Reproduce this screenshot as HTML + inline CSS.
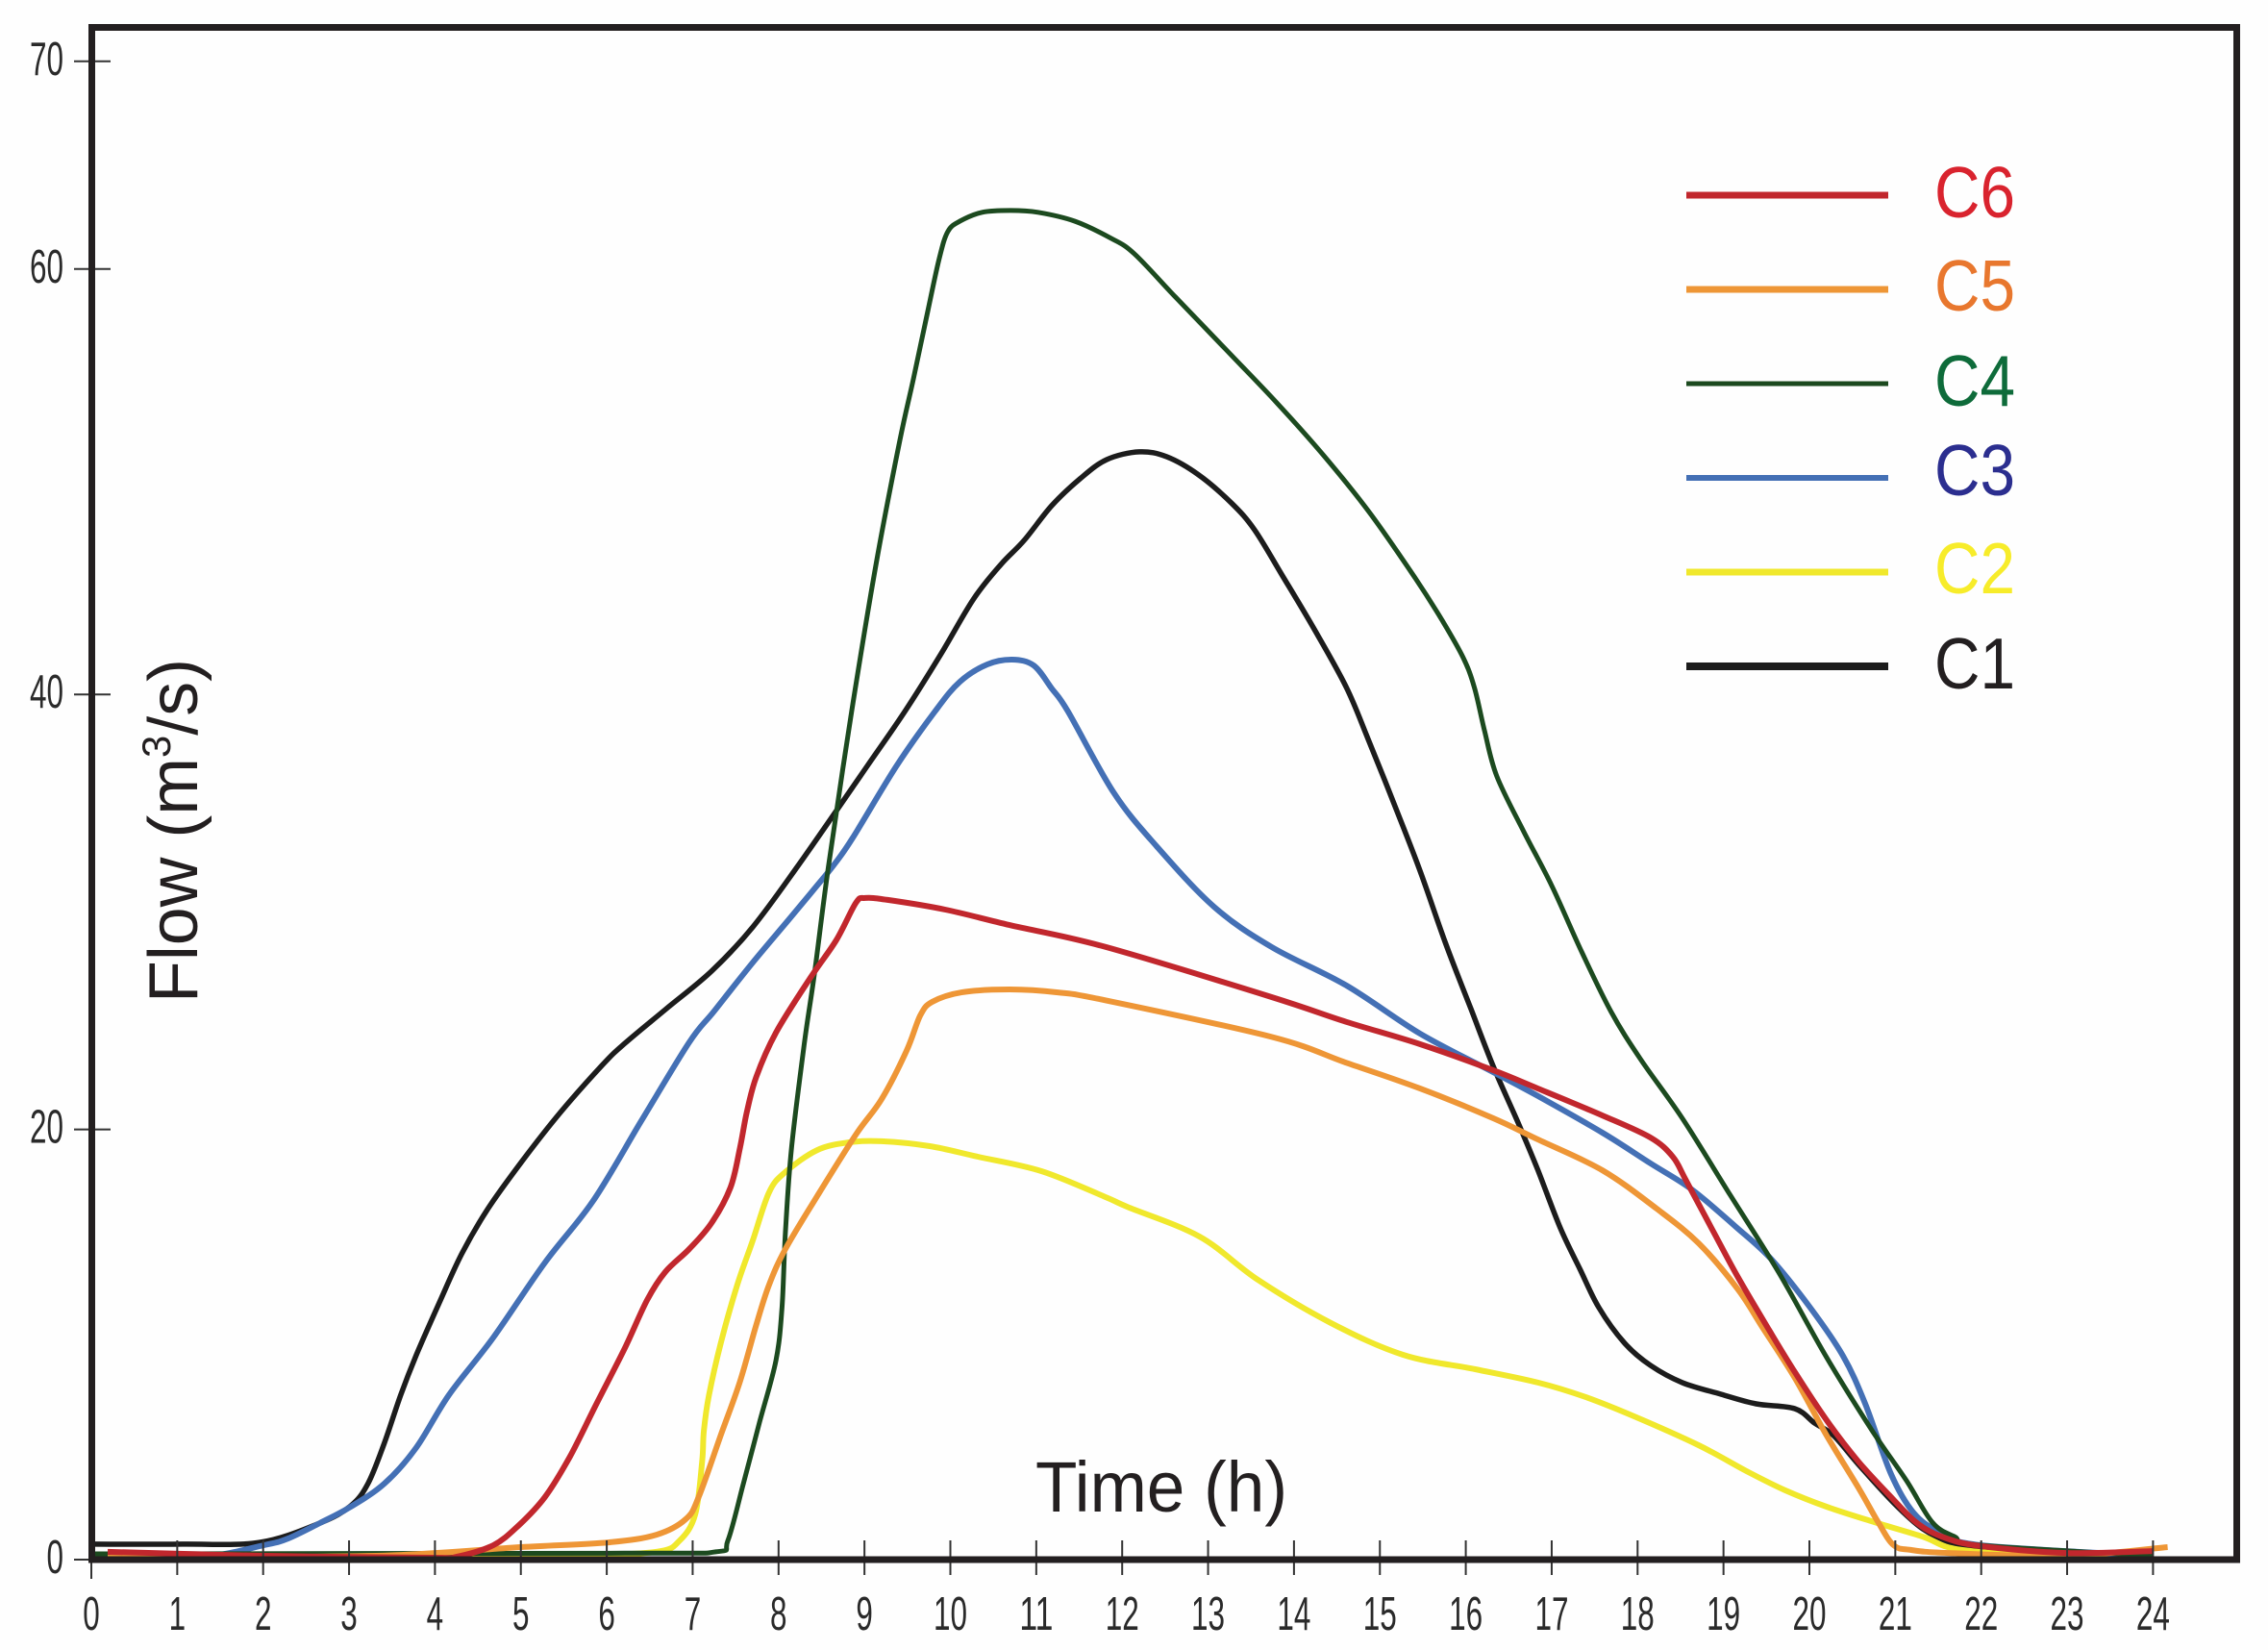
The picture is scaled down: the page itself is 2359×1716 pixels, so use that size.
<!DOCTYPE html>
<html lang="en">
<head>
<meta charset="utf-8">
<title>Flow vs Time</title>
<style>
html,body{margin:0;padding:0;background:#fefefe;}
svg{display:block;}
text{font-family:"Liberation Sans",sans-serif;}
</style>
</head>
<body>
<svg id="chart" xmlns="http://www.w3.org/2000/svg" width="2359" height="1716" viewBox="0 0 2359 1716">
<rect x="0" y="0" width="2359" height="1716" fill="#fefefe"/>
<g id="series"></g>
<g id="xticks"></g>
<g id="yticks"></g>
<rect x="95.5" y="28.5" width="2231" height="1593.5" fill="none" stroke="#231f20" stroke-width="7"/>
<text transform="translate(205,1043) rotate(-90)" font-size="72" fill="#231f20" textLength="358" lengthAdjust="spacingAndGlyphs">Flow (m<tspan font-size="42" dy="-28">3</tspan><tspan dy="28">/s)</tspan></text>
<text x="1077" y="1572" font-size="74" fill="#231f20" textLength="262" lengthAdjust="spacingAndGlyphs">Time (h)</text>
<g id="legend"></g>
</svg>
<script>
const xTickLabels = [0,1,2,3,4,5,6,7,8,9,10,11,12,13,14,15,16,17,18,19,20,21,22,23,24];
const yTickLabels = [0,20,40,60,70];

const c1Hours = [0,1.06,1.96,2.66,3.02,3.22,3.41,3.60,3.78,4.05,4.31,4.61,5.01,5.46,5.95,6.21,6.69,7.22,7.7,8.23,9.03,9.47,9.89,10.27,10.59,10.86,11.18,11.51,11.82,12.2,12.52,12.89,13.27,13.54,13.86,14.24,14.61,14.86,15.17,15.47,15.76,16.06,16.32,16.62,16.84,17.1,17.33,17.55,17.85,18.15,18.52,18.97,19.38,19.83,20.06,20.28,20.57,20.98,21.32,21.66,22,24];
const c1Flow = [0.72,0.72,0.8,1.7,2.5,3.53,5.41,7.64,9.48,11.94,14.2,16.27,18.5,20.79,23.0,24.0,25.6,27.36,29.41,32.28,36.88,39.43,42.1,44.66,46.27,47.39,49.0,50.25,51.14,51.5,51.27,50.43,49.13,47.88,45.78,43.23,40.55,38.18,35.09,32.0,28.7,25.6,22.93,20.21,18.1,15.42,13.5,11.71,10.06,9.03,8.23,7.69,7.24,7.02,6.35,5.77,4.43,2.64,1.43,0.76,0.45,0.18];

const c2Hours = [0.19,3.61,5.65,6.58,6.85,7.03,7.11,7.13,7.19,7.33,7.52,7.7,7.89,8.08,8.45,8.82,9.2,9.76,10.32,11.06,11.81,12.06,12.9,13.58,14.43,15.27,16.11,16.84,17.4,17.96,18.71,19.27,19.72,20.2,20.76,21.32,21.77,23,24];
const c2Flow = [0.09,0.13,0.22,0.36,0.89,2.1,4.56,5.99,7.64,10.1,12.78,14.84,17.08,18.02,19.04,19.4,19.45,19.22,18.73,18.06,16.85,16.4,15.02,13.01,11.0,9.52,8.85,8.23,7.55,6.66,5.32,4.11,3.22,2.46,1.74,1.07,0.45,0.13,0.13];

const c3Hours = [0.3,1.3,2.01,2.29,2.66,3.0,3.41,3.78,4.16,4.68,5.28,5.84,6.4,6.96,7.25,7.7,8.15,8.42,8.64,8.86,9.37,9.82,10.11,10.43,10.72,10.97,11.18,11.37,11.9,12.4,13.07,13.74,14.61,15.47,16.32,16.84,17.59,18.15,18.63,19.16,19.56,20.01,20.39,20.65,20.95,21.21,21.51,21.99,24];
const c3Flow = [0.13,0.13,0.67,0.98,1.7,2.41,3.53,5.19,7.64,10.33,13.81,16.67,20.38,24.05,25.5,27.76,29.9,31.2,32.28,33.53,36.88,39.43,40.81,41.62,41.84,41.57,40.5,39.43,35.67,33.17,30.35,28.48,26.69,24.45,22.66,21.55,19.85,18.42,17.21,15.42,13.95,11.71,9.48,7.24,3.98,2.19,1.3,0.67,0.18];

const c4Hours = [0,6.21,7.27,7.41,7.59,7.78,7.97,8.04,8.08,8.15,8.30,8.42,8.58,8.85,9.14,9.41,9.57,9.74,9.87,9.97,10.11,10.37,10.70,11.02,11.45,11.87,12.14,12.62,13.27,13.8,14.34,14.87,15.41,15.72,15.97,16.1,16.22,16.36,16.67,17.0,17.35,17.69,18.03,18.52,19.08,19.64,20.2,20.73,21.13,21.43,21.69,21.99,24];
const c4Flow = [0.27,0.3,0.36,0.89,3.53,6.4,9.26,11.72,15.2,19.1,24.0,27.3,32.2,39.4,46.4,52.0,54.9,58.1,60.5,61.8,62.3,62.73,62.82,62.73,62.3,61.48,60.74,58.7,56.0,53.78,51.36,48.73,45.64,43.7,41.93,40.55,38.5,36.43,33.88,31.34,28.25,25.48,23.29,20.52,16.94,13.37,9.4,6.0,3.67,1.74,1.07,0.67,0.18];

const c5Hours = [0.19,2.29,3.61,5,6.02,6.58,6.92,7.07,7.33,7.55,7.74,7.89,8.08,8.45,8.9,9.2,9.49,9.65,9.79,10.13,10.69,11.25,11.81,13.74,14.61,15.47,16.32,16.84,17.59,18.22,18.71,19.16,19.45,19.83,20.2,20.57,20.8,20.98,21.18,21.62,23,24.17];
const c5Flow = [0.09,0.13,0.22,0.58,0.8,1.16,1.88,2.91,5.81,8.27,10.91,12.78,14.44,16.9,19.76,21.41,23.65,25.3,25.93,26.37,26.51,26.37,26.0,24.3,23.1,21.9,20.52,19.53,18.1,16.32,14.71,12.61,10.82,8.45,5.77,3.35,1.74,0.67,0.45,0.31,0.18,0.58];

const c6Hours = [0.19,2.01,3.97,4.25,4.68,4.98,5.28,5.57,5.88,6.21,6.47,6.68,6.96,7.22,7.44,7.55,7.63,7.74,7.97,8.37,8.67,8.9,9.01,9.27,9.94,10.69,11.81,13.74,14.61,15.47,16.32,16.84,17.59,18.15,18.41,18.56,18.86,19.16,19.53,19.83,20.2,20.57,20.95,21.24,21.54,21.99,23,24];
const c6Flow = [0.36,0.18,0.09,0.13,0.67,1.61,2.91,4.78,7.24,9.83,12.07,13.37,14.44,15.65,17.3,19.13,20.79,22.44,24.5,27.05,28.79,30.53,30.76,30.67,30.22,29.5,28.48,26.15,25.0,23.96,22.75,21.9,20.65,19.62,18.73,17.66,15.42,13.19,10.68,8.72,6.48,4.56,2.91,1.74,1.07,0.63,0.31,0.4];

const seriesNames = ['C1','C2','C3','C4','C5','C6'];
const seriesHours = [c1Hours,c2Hours,c3Hours,c4Hours,c5Hours,c6Hours];
const seriesFlow = [c1Flow,c2Flow,c3Flow,c4Flow,c5Flow,c6Flow];
const seriesColors = ['#1c1c1c','#f0e82c','#4470b5','#1c4a1f','#ee9636','#c1272d'];
const seriesWidths = [5.5,6,6,5,6,6];

const legendOrder = ['C6','C5','C4','C3','C2','C1'];
const legendTextColors = {C6:'#d9232e',C5:'#e8772e',C4:'#0e6b3a',C3:'#2b2e8f',C2:'#f7ec2a',C1:'#231f20'};
const legendLineWidths = {C6:7,C5:7,C4:5,C3:6,C2:7,C1:8};
const legendLabelDrop = {C6:23,C5:22,C4:23,C3:18,C2:22,C1:23};

const NS = 'http://www.w3.org/2000/svg';
function xScale(h){ return 95 + h * 89.35; }
function yScale(v){ return v <= 60 ? 1622 - v * 22.37 : 279.8 - (v - 60) * 21.6; }
function yTickPos(v){ return yScale(v) - (v === 40 ? 5 : 0); }

function smoothPath(hs, vs){
  const p = hs.map((h,i)=>[xScale(h), yScale(vs[i])]);
  let d = 'M' + p[0][0].toFixed(1) + ' ' + p[0][1].toFixed(1);
  for(let i=0;i<p.length-1;i++){
    const a = p[Math.max(i-1,0)], b = p[i], c = p[i+1], e = p[Math.min(i+2,p.length-1)];
    const c1x = b[0] + (c[0]-a[0])/6, c1y = b[1] + (c[1]-a[1])/6;
    const c2x = c[0] - (e[0]-b[0])/6, c2y = c[1] - (e[1]-b[1])/6;
    d += 'C' + c1x.toFixed(1) + ' ' + c1y.toFixed(1) + ' ' + c2x.toFixed(1) + ' ' + c2y.toFixed(1) + ' ' + c[0].toFixed(1) + ' ' + c[1].toFixed(1);
  }
  return d;
}

const seriesGroup = document.getElementById('series');
seriesNames.forEach((name,i)=>{
  const path = document.createElementNS(NS,'path');
  path.setAttribute('d', smoothPath(seriesHours[i], seriesFlow[i]));
  path.setAttribute('fill','none');
  path.setAttribute('stroke',seriesColors[i]);
  path.setAttribute('stroke-width',seriesWidths[i]);
  path.setAttribute('stroke-linejoin','round');
  
  
  seriesGroup.appendChild(path);
});

const xGroup = document.getElementById('xticks');
xTickLabels.forEach(h=>{
  const x = xScale(h);
  const line = document.createElementNS(NS,'line');
  line.setAttribute('x1',x);
  line.setAttribute('x2',x);
  line.setAttribute('y1',1602);
  line.setAttribute('y2',h===0?1642:1638);
  line.setAttribute('stroke','#333');
  line.setAttribute('stroke-width',2);
  
  
  xGroup.appendChild(line);
  const t = document.createElementNS(NS,'text');
  const s = String(h);
  t.textContent = s;
  t.setAttribute('x',x);
  t.setAttribute('y',1695);
  t.setAttribute('font-size',49);
  t.setAttribute('fill','#2a2a2a');
  t.setAttribute('text-anchor','middle');
  t.setAttribute('textLength',s.length*17.5);
  t.setAttribute('lengthAdjust','spacingAndGlyphs');
  
  
  xGroup.appendChild(t);
});

const yGroup = document.getElementById('yticks');
yTickLabels.forEach(v=>{
  const y = yTickPos(v);
  const line = document.createElementNS(NS,'line');
  line.setAttribute('x1',77);
  line.setAttribute('x2',v===0?95:115);
  line.setAttribute('y1',y);
  line.setAttribute('y2',y);
  line.setAttribute('stroke','#333');
  line.setAttribute('stroke-width',2);
  
  
  yGroup.appendChild(line);
  const t = document.createElementNS(NS,'text');
  const s = String(v);
  t.textContent = s;
  t.setAttribute('x',66);
  t.setAttribute('y',y+14);
  t.setAttribute('font-size',49);
  t.setAttribute('fill','#2a2a2a');
  t.setAttribute('text-anchor','end');
  t.setAttribute('textLength',s.length*17.5);
  t.setAttribute('lengthAdjust','spacingAndGlyphs');
  
  
  yGroup.appendChild(t);
});

const legendGroup = document.getElementById('legend');
legendOrder.forEach((name,i)=>{
  const seriesIndex = seriesNames.indexOf(name);
  const y = 203 + i * 98;
  const line = document.createElementNS(NS,'line');
  line.setAttribute('x1',1754);
  line.setAttribute('x2',1964);
  line.setAttribute('y1',y);
  line.setAttribute('y2',y);
  line.setAttribute('stroke',seriesColors[seriesIndex]);
  line.setAttribute('stroke-width',legendLineWidths[name]);
  
  
  legendGroup.appendChild(line);
  const t = document.createElementNS(NS,'text');
  t.textContent = name;
  t.setAttribute('x',2012);
  t.setAttribute('y',y+legendLabelDrop[name]);
  t.setAttribute('font-size',75);
  t.setAttribute('fill',legendTextColors[name]);
  t.setAttribute('textLength',84);
  t.setAttribute('lengthAdjust','spacingAndGlyphs');
  
  
  legendGroup.appendChild(t);
});
</script>
</body>
</html>
